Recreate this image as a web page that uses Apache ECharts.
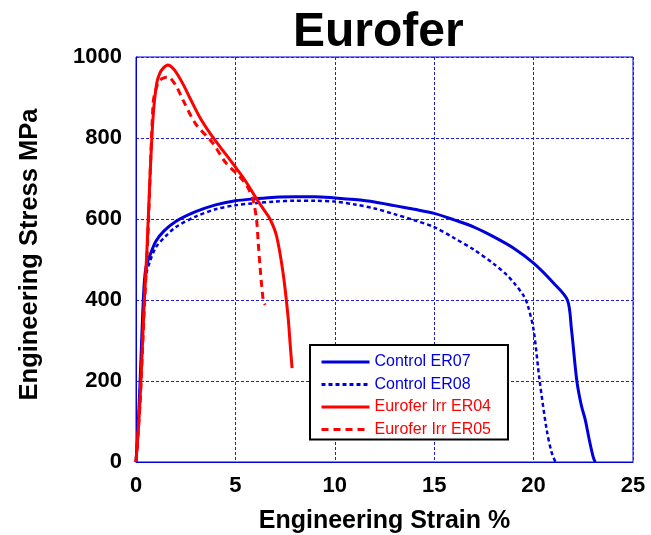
<!DOCTYPE html>
<html>
<head>
<meta charset="utf-8">
<script src="https://cdn.jsdelivr.net/npm/echarts@6/dist/echarts.min.js"></script>
<style>html,body{margin:0;padding:0;background:#fff}#c{width:651px;height:535px}</style>
</head>
<body>
<div id="c"></div>
<script>
var titleText = 'Eurofer';
var xName = 'Engineering Strain %';
var yName = 'Engineering Stress MPa';
var seriesNames = ['Control ER07', 'Control ER08', 'Eurofer Irr ER04', 'Eurofer Irr ER05'];

var er07 = [[0,0],[0.1,80],[0.2,190],[0.3,320],[0.4,430],[0.5,480],[0.7,510],[1.0,545],[1.4,570],[2.0,594],[3.0,618],[4,635],[5,645],[6,650],[7,654],[8,655],[9,655],[10,652],[11,648],[12,642],[13,633],[14,624],[15,614],[16,598],[17,580],[18,556],[19,528],[20,491],[21,442],[21.7,400],[21.9,330],[22.17,202],[22.4,140],[22.6,104],[22.8,55],[23.0,12],[23.1,0]];
var er08 = [[0,0],[0.1,70],[0.2,170],[0.3,300],[0.4,410],[0.5,460],[0.7,495],[1.0,530],[1.5,558],[2,580],[3,606],[4,624],[5,634],[6,639],[7,643],[8,645],[9,645],[10,643],[11,636],[12,626],[13,612],[14,597],[15,580],[16,553],[17,524],[18,489],[18.65,462],[19.0,443],[19.48,412],[19.7,388],[20.0,326],[20.3,202],[20.66,79],[20.9,25],[21.1,0]];
var er04 = [[0,0],[0.2,150],[0.4,380],[0.55,523],[0.7,700],[0.86,852],[1.04,935],[1.2,960],[1.36,972],[1.6,980],[1.8,975],[2.05,960],[2.4,930],[2.7,900],[3.2,852],[3.72,812],[4.2,780],[4.73,746],[5.2,715],[5.57,689],[6.0,655],[6.4,625],[6.74,600],[7.07,558],[7.4,466],[7.65,358],[7.75,294],[7.85,232]];
var er05 = [[0,0],[0.2,140],[0.4,360],[0.6,560],[0.86,886],[1.0,920],[1.2,943],[1.6,951],[2.0,930],[2.36,894],[3.0,835],[3.87,787],[4.5,740],[5.23,704],[5.6,680],[5.9,645],[6.07,595],[6.15,540],[6.24,482],[6.4,400],[6.5,388]];

var BLUE = '#0000dd', RED = '#ff0000', GRIDC = '#2020d0';
var font = 'Liberation Sans, Arial, sans-serif';

var chart = echarts.init(document.getElementById('c'), null, {renderer: 'canvas'});
chart.setOption({
  animation: false,
  backgroundColor: '#fff',
  title: {
    text: titleText, left: 288, top: 4,
    textStyle: {fontFamily: font, fontSize: 48, fontWeight: 'bold', color: '#000'}
  },
  grid: {left: 136, right: 18, top: 57, bottom: 73, show: true, borderColor: BLUE, borderWidth: 1,
         backgroundColor: 'transparent', outerBoundsMode: 'none', containLabel: false},
  legend: {
    orient: 'vertical', left: 310, top: 345,
    padding: [9, 17, 2, 10],
    itemStyle: {opacity: 0},
    lineStyle: {width: 3},
    borderColor: '#000', borderWidth: 2, backgroundColor: '#fff',
    itemWidth: 48, itemHeight: 14, itemGap: 6.5,
    data: [
      {name: seriesNames[0], textStyle: {color: BLUE}},
      {name: seriesNames[1], textStyle: {color: BLUE}},
      {name: seriesNames[2], textStyle: {color: RED}},
      {name: seriesNames[3], textStyle: {color: RED}}
    ],
    textStyle: {fontFamily: font, fontSize: 16}
  },
  xAxis: {
    type: 'value', min: 0, max: 25, interval: 5,
    name: xName, nameLocation: 'middle', nameGap: 47,
    nameTextStyle: {fontFamily: font, fontSize: 25, fontWeight: 'bold', color: '#000'},
    axisLine: {show: true, lineStyle: {color: BLUE}},
    axisTick: {show: false},
    axisLabel: {fontFamily: font, fontSize: 22, fontWeight: 'bold', color: '#000', margin: 13},
    splitLine: {show: true, lineStyle: {color: GRIDC, type: [3, 2], width: 1}}
  },
  yAxis: {
    type: 'value', min: 0, max: 1000, interval: 200,
    name: yName, nameLocation: 'middle', nameGap: 93, nameRotate: 90,
    nameTextStyle: {fontFamily: font, fontSize: 25.5, fontWeight: 'bold', color: '#000', padding: [0, 0, 0, 10]},
    axisLine: {show: true, lineStyle: {color: BLUE}},
    axisTick: {show: false},
    axisLabel: {fontFamily: font, fontSize: 22, fontWeight: 'bold', color: '#000', margin: 14,
      formatter: function (v) { return String(v); }},
    splitLine: {show: true, lineStyle: {color: GRIDC, type: [3, 2], width: 1}}
  },
  series: [
    {name: seriesNames[0], type: 'line', data: er07, showSymbol: false, symbol: 'none', smooth: 0.3, z: 3,
     lineStyle: {color: BLUE, width: 3}, itemStyle: {color: BLUE}},
    {name: seriesNames[1], type: 'line', data: er08, showSymbol: false, symbol: 'none', smooth: 0.3, z: 3,
     lineStyle: {color: BLUE, width: 2.5, type: [4, 3]}, itemStyle: {color: BLUE}},
    {name: seriesNames[2], type: 'line', data: er04, showSymbol: false, symbol: 'none', smooth: 0.3, z: 4,
     lineStyle: {color: RED, width: 3}, itemStyle: {color: RED}},
    {name: seriesNames[3], type: 'line', data: er05, showSymbol: false, symbol: 'none', smooth: 0.3, z: 4,
     lineStyle: {color: RED, width: 3, type: [7, 5]}, itemStyle: {color: RED}}
  ]
});
</script>
</body>
</html>
